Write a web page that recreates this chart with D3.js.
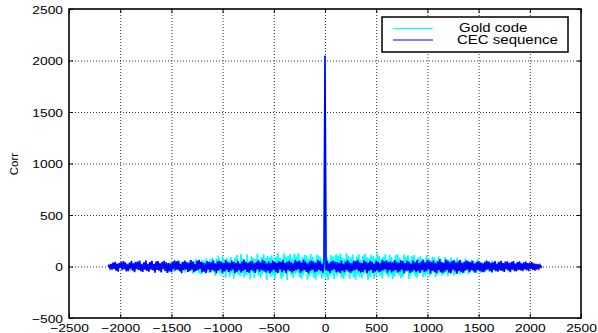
<!DOCTYPE html>
<html>
<head>
<meta charset="utf-8">
<script src="https://cdn.jsdelivr.net/npm/d3@7"></script>
<style>
  body { margin: 0; background: #fff; }
  text { font-family: "Liberation Sans", Arial, sans-serif; fill: #000; }
</style>
</head>
<body>
<div id="chart"></div>
<script>
// tick labels
var xTicks = [-2500, -2000, -1500, -1000, -500, 0, 500, 1000, 1500, 2000, 2500];
var yTicks = [-500, 0, 500, 1000, 1500, 2000, 2500];

// lags, every 10 samples from -2120 to 2120
var lags = d3.range(-2120, 2121, 10);

// Gold code correlation (cyan)
var goldCode = [
  // -2120 .. -130
  0, 6, -4, 10, -8, 3, -12, 14, -6, 9, -15, 18, -10, 4, -17, 20, -12, 8, -22, 16,
  -8, 24, -18, 12, -26, 6, 28, -20, 10, -30, 22, -14, 32, -24, 4, -28, 34, -16, 18, -32,
  26, -10, 38, -34, 14, -42, 30, -20, 46, -8, 36, -44, 22, -30, 48, -38, 12, 40, -26, -46,
  34, -18, 52, -40, 20, -56, 44, -28, 58, -12, 38, -50, 46, -34, 24, -60, 50, -22, 42, -54,
  62, -36, 28, -70, 56, -44, 74, -24, 48, -66, 36, -78, 64, -30, 52, -72, 80, -40, 34, -62,
  70, -48, 88, -56, 36, -94, 76, -42, 104, -64, 50, -86, 98, -38, 68, -110, 82, -52, 60, -100,
  92, -66, 44, -118, 86, -58, 112, -74, 40, -96, 120, -62, 78, -104, 54, -88, 116, -70, 48, -124,
  100, -60, 84, -112, 72, -46, 126, -90, 58, -108, 94, -76, 118, -52, 80, -130, 102, -64, 90, -98,
  110, -84, 56, -122, 96, -70, 132, -58, 88, -116, 74, -102, 128, -66, 92, -134, 106, -50, 120, -86,
  78, -114, 124, -72, 98, -60, 130, -104, 64, -120, 90, -82, 114, -56, 108, -128, 76, -96, 122, -68,
  // -120 .. -10
  94, -110, 62, -126, 116, -80, 104, -74, 86, -118, 70, -92,
  // 0
  2047,
  // 10 .. 120
  -100, 84, -132, 60, -88, 112, -76, 96, -124, 68, 118, -94,
  // 130 .. 2120
  106, -64, 126, -108, 82, -118, 72, -90, 130, -56, 100, -122, 88, -70, 116, -104, 60, -128, 94, -80,
  120, -98, 66, -114, 108, -76, 124, -60, 92, -130, 84, -102, 112, -68, 98, -120, 74, -88, 128, -62,
  104, -92, 70, -116, 96, -58, 122, -84, 62, -106, 114, -74, 90, -124, 56, -96, 110, -66, 118, -82,
  86, -112, 60, -100, 116, -72, 94, -54, 108, -120, 68, -88, 102, -64, 112, -96, 52, -110, 84, -70,
  98, -58, 76, -104, 50, -90, 106, -66, 82, -98, 62, -78, 94, -46, 86, -102, 58, -84, 100, -60,
  74, -88, 44, -80, 92, -54, 70, -94, 60, -72, 84, -42, 66, -86, 52, -76, 88, -48, 62, -78,
  56, -70, 40, -64, 78, -36, 60, -74, 46, -58, 68, -32, 54, -66, 38, -60, 72, -44, 50, -62,
  42, -56, 30, -52, 60, -28, 46, -50, 36, -44, 54, -24, 40, -48, 32, -40, 50, -20, 38, -42,
  30, -36, 22, -40, 34, -18, 28, -32, 14, -30, 36, -16, 26, -28, 12, -24, 30, -10, 20, -26,
  16, -20, 8, -18, 22, -6, 14, -16, 4, -12, 15, -8, 10, -12, 3, -9, 7, -4, 5, 0
];

// CEC sequence correlation (blue)
var cecSeq = [
  // -2120 .. -130
  0, 12, -18, 26, -30, 38, -22, 44, -40, 28, -50, 34, -14, 46, -36, 52, -26, 40, -48, 20,
  -44, 36, -20, 54, -38, 30, -56, 42, -24, 48, -34, 58, -46, 22, -52, 40, -30, 60, -42, 26,
  -50, 44, -28, 56, -36, 24, -60, 48, -32, 52, -40, 30, -58, 46, -22, 54, -44, 38, -62, 34,
  -48, 28, -54, 42, -26, 60, -38, 50, -30, 56, -46, 24, -64, 44, -34, 58, -28, 40, -52, 36,
  -42, 62, -30, 48, -56, 26, -44, 54, -36, 64, -24, 46, -58, 38, -50, 30, -62, 52, -28, 44,
  -54, 40, -32, 60, -46, 28, -66, 50, -38, 56, -26, 44, -60, 34, -48, 62, -30, 42, -56, 36,
  -40, 58, -28, 46, -64, 32, -50, 54, -36, 28, -58, 48, -42, 66, -30, 40, -52, 36, -60, 50,
  -34, 56, -46, 30, -62, 44, -26, 60, -50, 38, -32, 64, -44, 52, -58, 28, -40, 48, -66, 34,
  -48, 58, -30, 42, -56, 36, -62, 50, -28, 46, -54, 60, -38, 32, -64, 44, -34, 56, -46, 40,
  -58, 30, -42, 62, -36, 48, -26, 54, -60, 38, -44, 66, -32, 46, -52, 28, -64, 50, -40, 58,
  // -120 .. -10
  -30, 44, -56, 36, -48, 62, -34, 52, -42, 28, -60, 40,
  // 0
  2047,
  // 10 .. 120
  -38, 56, -44, 30, -62, 48, -36, 54, -28, 46, -58, 42,
  // 130 .. 2120
  -50, 34, -64, 58, -40, 26, -54, 46, -32, 62, -48, 38, -60, 30, -44, 56, -36, 50, -28, 64,
  -46, 40, -58, 32, -52, 60, -30, 48, -66, 36, -42, 54, -34, 44, -62, 28, -50, 58, -38, 46,
  -56, 30, -44, 64, -36, 50, -28, 58, -60, 42, -34, 48, -54, 38, -46, 62, -32, 44, -58, 36,
  -48, 60, -30, 52, -64, 34, -42, 56, -38, 46, -62, 28, -50, 58, -36, 40, -56, 64, -44, 32,
  -60, 48, -34, 66, -52, 38, -46, 62, -28, 54, -68, 42, -40, 58, -56, 30, -64, 50, -36, 70,
  -54, 44, -62, 36, -48, 68, -32, 56, -58, 40, -66, 52, -30, 60, -46, 38, -70, 48, -42, 62,
  -52, 34, -60, 46, -40, 58, -30, 50, -56, 42, -36, 54, -48, 28, -58, 44, -34, 52, -46, 38,
  -50, 30, -54, 46, -38, 56, -28, 48, -44, 36, -58, 40, -32, 52, -46, 26, -50, 44, -36, 54,
  -42, 32, -52, 48, -26, 50, -40, 36, -54, 44, -30, 52, -46, 28, -48, 42, -34, 50, -38, 30,
  -46, 40, -28, 48, -36, 32, -44, 38, -24, 42, -34, 30, -40, 26, -30, 22, -18, 14, -8, 0
];

var seriesNames = ["Gold code", "CEC sequence"];
var seriesColors = ["#00ffff", "#0000ff"];

var W = 598, H = 333;
var margin = {top: 9, right: 17, bottom: 15, left: 69};
var w = W - margin.left - margin.right,
    h = H - margin.top - margin.bottom;

var svg = d3.select("#chart").append("svg")
  .attr("width", W)
  .attr("height", H);

var g = svg.append("g")
  .attr("transform", "translate(" + margin.left + "," + margin.top + ")");

var x = d3.scaleLinear().domain([-2500, 2500]).range([0, w]);
var y = d3.scaleLinear().domain([-500, 2500]).range([h, 0]);

// grid
g.append("g").selectAll("line")
  .data(xTicks.slice(1, -1))
  .enter().append("line")
  .attr("x1", function(d) { return x(d) + 0.5; })
  .attr("x2", function(d) { return x(d) + 0.5; })
  .attr("y1", 0).attr("y2", h)
  .attr("stroke", "#333")
  .attr("stroke-dasharray", "1,2");

g.append("g").selectAll("line")
  .data(yTicks.slice(1, -1))
  .enter().append("line")
  .attr("y1", function(d) { return y(d) + 0.5; })
  .attr("y2", function(d) { return y(d) + 0.5; })
  .attr("x1", 0).attr("x2", w)
  .attr("stroke", "#333")
  .attr("stroke-dasharray", "1,2");

// lines
var line = d3.line()
  .x(function(d, i) { return x(lags[i]); })
  .y(function(d) { return y(d); });

[goldCode, cecSeq].forEach(function(s, k) {
  g.append("path")
    .datum(s)
    .attr("fill", "none")
    .attr("stroke", seriesColors[k])
    .attr("stroke-width", 1.6)
    .attr("d", line);
});

// axes
var fmt = d3.format("d");
var xAxis = d3.axisBottom(x).tickValues(xTicks).tickFormat(fmt).tickSizeInner(-4).tickSizeOuter(0);
var yAxis = d3.axisLeft(y).tickValues(yTicks).tickFormat(fmt).tickSizeInner(-4).tickSizeOuter(0);

var gx = g.append("g")
  .attr("transform", "translate(0," + h + ")")
  .call(xAxis);
gx.selectAll("text")
  .attr("y", 0).attr("dy", 0)
  .attr("transform", "translate(0,13.7) scale(1.2,1)")
  .style("font-size", "11.5px");

var gy = g.append("g").call(yAxis);
gy.selectAll("text")
  .attr("x", 0).attr("dy", "0.35em")
  .attr("transform", "translate(-6,0) scale(1.2,1)")
  .style("font-size", "11.5px");

// ticks on top and right
g.append("g").call(d3.axisTop(x).tickValues(xTicks).tickSizeInner(-4).tickSizeOuter(0).tickFormat(""));
g.append("g").attr("transform", "translate(" + w + ",0)")
  .call(d3.axisRight(y).tickValues(yTicks).tickSizeInner(-4).tickSizeOuter(0).tickFormat(""));

g.selectAll(".domain").remove();
g.selectAll(".tick line").attr("stroke", "#000");

// frame
g.append("rect")
  .attr("x", 0).attr("y", 0)
  .attr("width", w).attr("height", h)
  .attr("fill", "none")
  .attr("stroke", "#000")
  .attr("stroke-width", 1.6);

// y label
svg.append("text")
  .attr("transform", "translate(18,164) rotate(-90) scale(1.15,1)")
  .attr("text-anchor", "middle")
  .style("font-size", "10px")
  .text("Corr");

// legend
var lg = svg.append("g");
lg.append("rect")
  .attr("x", 382).attr("y", 17)
  .attr("width", 186).attr("height", 35)
  .attr("fill", "#fff")
  .attr("stroke", "#000")
  .attr("stroke-width", 1.5);

seriesNames.forEach(function(name, k) {
  var yy = 28.5 + k * 11.5;
  lg.append("line")
    .attr("x1", 393).attr("x2", 433)
    .attr("y1", yy).attr("y2", yy)
    .attr("stroke", seriesColors[k])
    .attr("stroke-width", 1);
  lg.append("text")
    .attr("transform", "translate(" + (k === 0 ? 459 : 457) + "," + (yy + 3.8) + ") scale(1.25,1)")
    .style("font-size", "12px")
    .text(name);
});
</script>
</body>
</html>
